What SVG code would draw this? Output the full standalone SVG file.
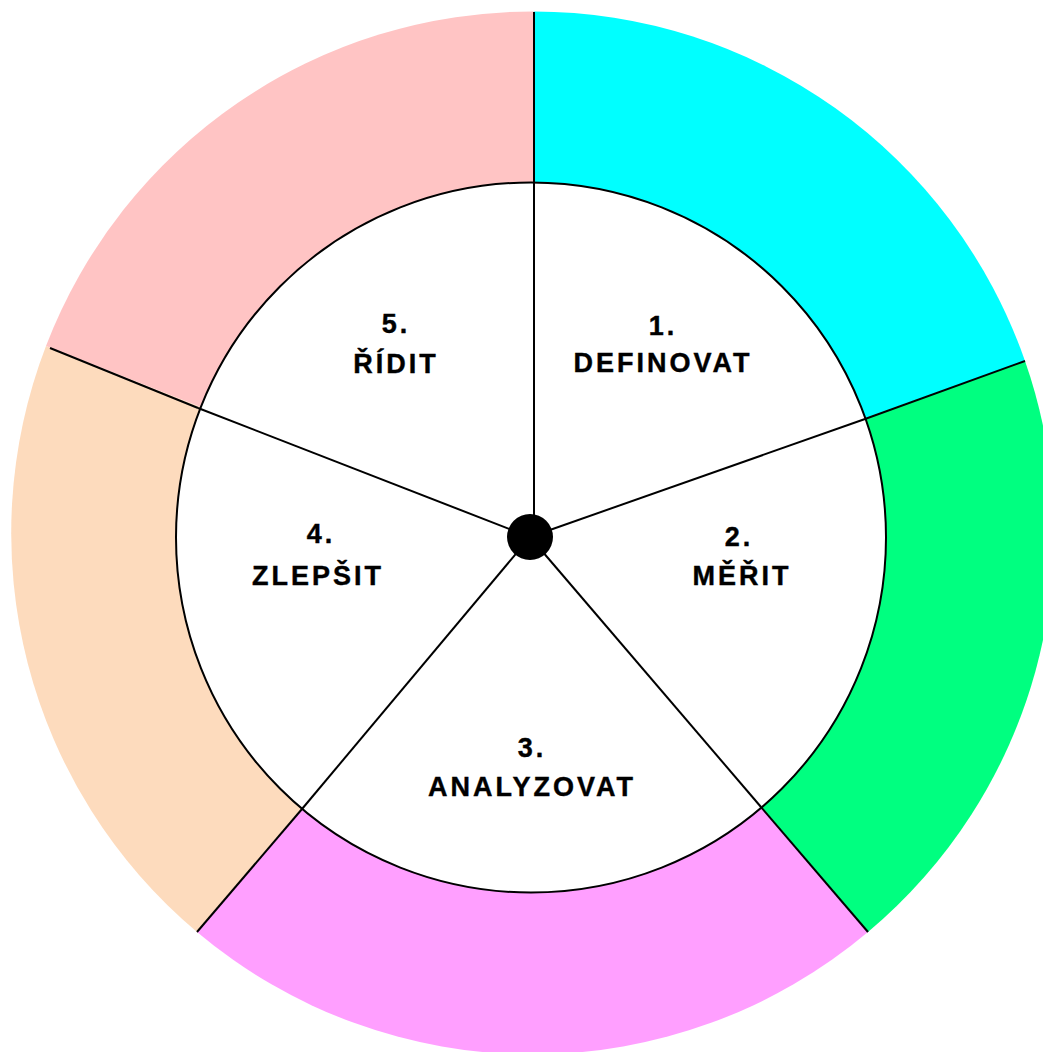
<svg xmlns="http://www.w3.org/2000/svg" width="1043" height="1052" viewBox="0 0 1043 1052">
<style>
.lbl{font-family:"Liberation Sans",Arial,sans-serif;font-weight:bold;font-size:27px;letter-spacing:3px;text-anchor:middle;fill:#000;stroke:#000;stroke-width:0.4}
.ln{stroke:#000;stroke-width:2;fill:none}
</style>
<rect width="1043" height="1052" fill="#fff"/>
<g id="seg1">
<path d="M531 537 L534 11.5 A521 521 0 0 1 1025 361 Z" fill="#00FFFF"/>
</g>
<g id="seg2">
<path d="M531 537 L1025 361 A521 521 0 0 1 868 932 Z" fill="#00FF80"/>
</g>
<g id="seg3">
<path d="M531 537 L868 932 A521 521 0 0 1 197 932 Z" fill="#FF9FFF"/>
</g>
<g id="seg4">
<path d="M531 537 L197 932 A521 521 0 0 1 46 346 Z" fill="#FDDBBD"/>
</g>
<g id="seg5">
<path d="M531 537 L46 346 A521 521 0 0 1 534 11.5 Z" fill="#FFC4C4"/>
</g>
<g id="hub">
<circle cx="531" cy="537.5" r="355" fill="#fff" stroke="#000" stroke-width="2"/>
</g>
<g id="connectors">
<line class="ln" x1="534" y1="12" x2="534" y2="537"/>
<line class="ln" x1="1025" y1="361" x2="865" y2="419"/>
<line class="ln" x1="865" y1="419" x2="530" y2="537"/>
<line class="ln" x1="868" y1="932" x2="761" y2="807"/>
<line class="ln" x1="761" y1="807" x2="530" y2="537"/>
<line class="ln" x1="197" y1="932" x2="302" y2="809"/>
<line class="ln" x1="302" y1="809" x2="530" y2="537"/>
<line class="ln" x1="50" y1="348" x2="198" y2="408"/>
<line class="ln" x1="198" y1="408" x2="530" y2="537"/>
<circle cx="530" cy="537" r="23" fill="#000"/>
</g>
<g id="label1">
<text class="lbl" x="663" y="335">1.</text>
<text class="lbl" x="663" y="372">DEFINOVAT</text>
</g>
<g id="label2">
<text class="lbl" x="739" y="546">2.</text>
<text class="lbl" x="742" y="585">MĚŘIT</text>
</g>
<g id="label3">
<text class="lbl" x="532" y="757">3.</text>
<text class="lbl" x="532" y="796">ANALYZOVAT</text>
</g>
<g id="label4">
<text class="lbl" x="321" y="543">4.</text>
<text class="lbl" x="318" y="585">ZLEPŠIT</text>
</g>
<g id="label5">
<text class="lbl" x="396" y="333">5.</text>
<text class="lbl" x="396" y="373">ŘÍDIT</text>
</g>
</svg>
